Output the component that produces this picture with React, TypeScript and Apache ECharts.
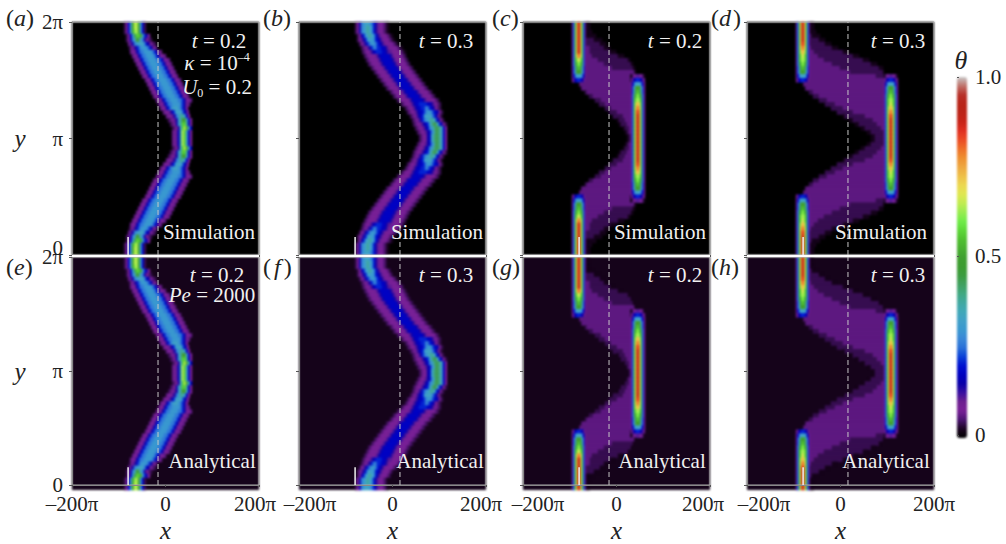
import React, { useEffect, useRef } from "react";
import * as echarts from "echarts";

const SERIF = '"Liberation Serif", "DejaVu Serif", serif';

// theta value of each letter used in the row strings below
const THETA_LEVELS: Record<string, number> = {
  a: 0.02, b: 0.04, c: 0.06, d: 0.08, e: 0.11, f: 0.145, g: 0.18, h: 0.21, i: 0.26, j: 0.3, k: 0.33, l: 0.38,
  m: 0.43, n: 0.5, o: 0.565, p: 0.61, q: 0.64, r: 0.69, s: 0.74, t: 0.8, u: 0.84, v: 0.89, w: 0.945,
};

// colour bar, bottom to top, one colour per 0.025 of theta
const COLORBAR = [
  "#000000", "#1a0420", "#4a1470", "#7a2098", "#6e2090", "#3a10a0", "#0a00a8", "#0000c0", "#0010d0", "#0a40d8",
  "#2a70d8", "#3a88d8", "#3a98d0", "#40a0c8", "#40a8b8", "#40a8a0", "#40a880", "#40a060", "#3c9c40", "#3c9c30",
  "#40a030", "#48b030", "#50c030", "#5cd838", "#70ec48", "#98ec50", "#c0ec50", "#e0e850", "#ecd850", "#eec048",
  "#eea840", "#ee9030", "#ee7028", "#ec4c24", "#e03020", "#c82418", "#bc2418", "#b82418", "#b83028", "#c07068",
  "#c8c8c8",
];

// Rows from y = 2pi down to y = pi; each row is "startColumn letters" pairs, a letter may carry a repeat count.
const BAND = "cddfhiijjjjiihfddc";
const FIELD_T02_WIDE = [
  "52 bdgjnqqnjgb", "52 bdgjnqqnjgb", "52 bdgjnpqnjgb", "54 bdgjmoonkhfd", "54 bdfiknmkifdcb", "56 cefijkkkigfdcb",
  "57 bdefhijjjihfdc", "58 cddfhiijjjjihfdc", "60 cddfhiijjjjihfddc", `62 ${BAND}`, `64 ${BAND}`,
  `66 ${BAND}`, `68 ${BAND}`, `70 ${BAND}`, `73 ${BAND}`, `75 ${BAND}`,
  `77 ${BAND}`, `79 ${BAND}`, `81 ${BAND}`, `84 ${BAND}`, "86 cddfhiijjjjihfdc",
  "88 cddfhijkkjihfd", "91 cddefhjkkjhfd", "94 cddefijlljgd", "96 bcdefjlnnkgd", "98 bcdfjloolgd", "100 bcdfkoqnkg",
  "100 cdeglqokgd", "100 cdeglqokgd",
];

const DEEP = "bcddddefgggggfeddddcb";
const FIELD_T03_WIDE = [
  "56 bdfijkkjihfeddcba", "56 bdfijklkjhfeddcba", "56 bdfijklkjhfeddcba", "58 bdfhjklkjhfedddcba", "58 bdefhjkjjhgfedddcba",
  "60 bdefhijjihgfeddddcba", "62 bcdefhiihhggfeddddcba", "63 bcddefghhhggfeeddddcba", `65 ${DEEP}`,
  `67 ${DEEP}`, `69 ${DEEP}`, `72 ${DEEP}`, `75 ${DEEP}`,
  `78 ${DEEP}`, `81 ${DEEP}`, `84 ${DEEP}`, `87 ${DEEP}`,
  `91 ${DEEP}`, `94 ${DEEP}`, `98 ${DEEP}`, "102 bcdddefgghhhhggfedcb",
  "106 bcddefgghhiihgfdcb", "108 bcddefgghijjihgfdb", "111 bcdefghjkkkihfdb", "113 bcdefhijkllkhfdb", "114 bcddefghjlmmkhfdb",
  "116 bcddefgijlmmlkgd", "118 bcddefgikmmlkgd", "120 bcddfgjlmmlkgd",
];

// cross-sections of the narrow stripes, named after their core level
const S_V = "dhjnqtvvtqnjhd";
const S_U = "dhjnqtuutqnjhd";
const S_T = "dhjnqsttsqnjhd";
const S_S = "dhjnprssrpnjhd";
const S_R = "dhjnoprrponjhd";
const S_Q = "dhjnopqqponjhd";
const S_P = "dhjmnopponmjhd";
const S_O = "dgilmnoonmligd";
const S_N = "dgikmnnnnmkigd";
const S_K = "dfgijkkkkjigfd";
const S_H = "cdffghhhhgffdc";
const S_TIP = "abcddeeeeddcba";

const FIELD_T02_NARROW = [
  `49 ${S_V} 63 a4`, `49 ${S_V} 63 a4`, `49 ${S_V} 63 a6`, `49 ${S_V} 63 a10`, `49 ${S_V} 63 b8a8`,
  `49 ${S_V} 63 b14a6`, `49 ${S_V} 63 c4b14a6`, `49 ${S_V} 63 c4b20a6`, `49 ${S_T} 63 c6b26a6`, `49 ${S_R} 63 c12b30a2`,
  `49 ${S_P} 63 c18b27a2`, `49 ${S_O} 63 c26b21a2`, `49 ${S_N} 63 c48ba`, `49 ${S_K} 63 c44 108 ${S_TIP}`,
  `49 ${S_H} 63 c44 108 ${S_H}`, `56 bc51 108 ${S_K}`, `58 bc49 108 ${S_N}`, `62 b2c44 108 ${S_O}`,
  `66 b4c38 108 ${S_P}`, `72 b6c30 108 ${S_Q}`, `76 b6c26 108 ${S_S}`, `82 b6c20 108 ${S_T}`, `86 b8c14 108 ${S_U}`,
  `90 b10c8 108 ${S_V}`, `94 a2b6c6 108 ${S_V}`, `96 a2b6c4 108 ${S_V}`, `100 a2b4c2 108 ${S_V}`, `102 a2b2c2 108 ${S_V}`,
  `104 a2b2 108 ${S_V}`,
];

const FIELD_T03_NARROW = [
  `49 ${S_V} 63 a4`, `49 ${S_V} 63 a4`, `49 ${S_V} 63 a6`, `49 ${S_V} 63 b2a8`, `49 ${S_V} 63 b9a6`,
  `49 ${S_U} 63 b15a6`, `49 ${S_T} 63 cb21a6`, `49 ${S_S} 63 c4b29a6`, `49 ${S_R} 63 c8b35a6`, `49 ${S_Q} 63 c14b39a6`,
  `49 ${S_P} 63 c22b39a6`, `49 ${S_O} 63 c30b39a4`, `49 ${S_N} 63 c40b32ba`, `49 ${S_K} 63 c66b8 137 ${S_TIP}`,
  `49 ${S_H} 63 c74 137 ${S_H}`, `56 bc80 137 ${S_K}`, `58 bc78 137 ${S_N}`, `62 b4c71 137 ${S_O}`, `66 b6c65 137 ${S_P}`,
  `72 b8c57 137 ${S_Q}`, `78 b10c49 137 ${S_R}`, `84 b12c41 137 ${S_S}`, `90 b16c31 137 ${S_T}`, `96 a2b20c19 137 ${S_U}`,
  `102 a4b20c11 137 ${S_V}`, `108 a4b18c7 137 ${S_V}`, `114 a4b16c3 137 ${S_V}`, `120 a4b13 137 ${S_V}`, `124 a4b9 137 ${S_V}`,
];

const Y_TICKS: Record<number, string> = { 0: "0", 1: "π", 2: "2π" };
const FIELDS = [FIELD_T02_WIDE, FIELD_T03_WIDE, FIELD_T02_NARROW, FIELD_T03_NARROW];
const LETTER_COLUMNS = [2, 2, 1, 1];
const N_COLS = 187;
const PANEL_LETTERS = ["a", "b", "c", "d", "e", "f", "g", "h"];
const DASH_X = [-16, 16, -16, 16];
const MARK_X = -80;
const MARK_TOP = 0.155;
const TIMES = ["0.2", "0.3", "0.2", "0.3"];

const COL_LEFT = [72, 299, 523, 747];
const ROW_TOP = [22, 257];
const PANEL_W = 187;
const PANEL_H = 233;
const N_ROWS = 58;
const ROW_BG = ["#000000", "#15031a"];
const MIN_LABEL_SHIFT = [0, 11, 15, 17];
const MAX_LABEL_SHIFT = [4, 5, 7, 0];

function decodeField(rows: string[], letterColumns: number) {
  const cells: number[][] = [];
  const full = [...rows, ...[...rows].reverse()];
  full.forEach((row, r) => {
    const map = new Map<number, number>();
    const parts = row.split(" ");
    for (let p = 0; p + 1 < parts.length; p += 2) {
      let col = Number(parts[p]);
      for (const m of parts[p + 1].matchAll(/([a-w])(\d*)/g)) {
        const n = (m[2] ? Number(m[2]) : 1) * letterColumns;
        for (let j = 0; j < n; j++) map.set(col++, THETA_LEVELS[m[1]]);
      }
    }
    map.forEach((v, c) => cells.push([c, N_ROWS - 1 - r, v]));
  });
  return cells;
}

function heatOption() {
  const grid: any[] = [];
  const xAxis: any[] = [];
  const yAxis: any[] = [];
  const series: any[] = [];
  const rowNames = Array.from({ length: N_ROWS }, (_, i) => String(i));
  const colNames = Array.from({ length: N_COLS }, (_, k) => String(k));
  for (let i = 0; i < 8; i++) {
    const col = i % 4;
    const row = i < 4 ? 0 : 1;
    grid.push({
      left: COL_LEFT[col], top: ROW_TOP[row], width: PANEL_W, height: PANEL_H,
      show: true, backgroundColor: ROW_BG[row], borderWidth: 0,
    });
    xAxis.push({ type: "category", gridIndex: i, data: colNames, show: false });
    yAxis.push({ type: "category", gridIndex: i, data: rowNames, show: false });
    series.push({
      type: "heatmap", xAxisIndex: i, yAxisIndex: i, data: decodeField(FIELDS[col], LETTER_COLUMNS[col]),
      silent: true, progressive: 0, emphasis: { disabled: true },
    });
  }
  return {
    animation: false,
    backgroundColor: "#ffffff",
    grid, xAxis, yAxis, series,
    visualMap: {
      type: "continuous", min: 0, max: 1, show: true, left: 957, top: 77, itemWidth: 10, itemHeight: 361,
      padding: 0, calculable: false, hoverLink: false, text: ["", ""], inRange: { color: COLORBAR },
    },
  };
}

function frameOption() {
  const grid: any[] = [];
  const xAxis: any[] = [];
  const yAxis: any[] = [];
  const series: any[] = [];
  const labelStyle = { fontFamily: SERIF, fontSize: 21, color: "#222222" };

  for (let i = 0; i < 8; i++) {
    const col = i % 4;
    const row = i < 4 ? 0 : 1;
    grid.push({
      left: COL_LEFT[col], top: ROW_TOP[row], width: PANEL_W, height: PANEL_H,
      show: true, backgroundColor: "transparent", borderColor: "#aaaaaa", borderWidth: 1,
    });
    xAxis.push({
      type: "value", gridIndex: i, min: -200, max: 200, interval: 200, position: "bottom",
      axisLine: { show: true, onZero: false, lineStyle: { color: "#888888" } },
      axisTick: { show: true, length: 2, lineStyle: { color: "#555555" } },
      splitLine: { show: false },
      axisLabel: {
        show: row === 1, margin: 8, hideOverlap: false, showMinLabel: true, showMaxLabel: true, ...labelStyle,
        formatter: (v: number) => (v === -200 ? "{lo|–200π}" : v === 200 ? "{hi|200π}" : "0"),
        rich: {
          lo: { ...labelStyle, padding: [0, 0, 0, 2 * MIN_LABEL_SHIFT[col]] },
          hi: { ...labelStyle, padding: [0, 2 * MAX_LABEL_SHIFT[col], 0, 0] },
        },
      },
      name: row === 1 ? "x" : "", nameLocation: "middle", nameGap: 33,
      nameTextStyle: { fontFamily: SERIF, fontStyle: "italic", fontSize: 25, color: "#222222" },
    });
    yAxis.push({
      type: "value", gridIndex: i, min: 0, max: 2, interval: 1, position: "left",
      axisLine: { show: true, onZero: false, lineStyle: { color: "#888888" } },
      axisTick: { show: true, length: 3, lineStyle: { color: "#555555" } },
      splitLine: { show: false },
      axisLabel: {
        show: col === 0, margin: 9, showMinLabel: true, showMaxLabel: true, ...labelStyle,
        formatter: (v: number) => (row === 0 && v === 0 ? "{up|0}" : Y_TICKS[v]),
        rich: { up: { ...labelStyle, padding: [0, 0, 14, 0] } },
      },
      name: col === 0 ? "y" : "", nameLocation: "middle", nameRotate: 0, nameGap: 52,
      nameTextStyle: { fontFamily: SERIF, fontStyle: "italic", fontSize: 25, color: "#222222", align: "center", padding: [0, 0, 12, 0] },
    });
    series.push({
      type: "line", xAxisIndex: i, yAxisIndex: i, symbol: "none", silent: true,
      data: [[DASH_X[col], 0], [DASH_X[col], 2]],
      lineStyle: { color: "#c8c8c8", width: 1, type: [5, 3] },
    });
    series.push({
      type: "line", xAxisIndex: i, yAxisIndex: i, symbol: "none", silent: true,
      data: [[MARK_X, 0], [MARK_X, MARK_TOP]],
      lineStyle: { color: "#f0f0f0", width: 1.5 },
    });
  }

  // colour bar axis
  grid.push({ left: 957, top: 77, width: 10, height: 358, show: false });
  xAxis.push({ type: "value", gridIndex: 8, show: false, min: 0, max: 1 });
  yAxis.push({
    type: "value", gridIndex: 8, position: "right", min: 0, max: 1, interval: 0.5,
    axisLine: { show: false },
    axisTick: { show: true, length: 2, lineStyle: { color: "#555555" } },
    splitLine: { show: false },
    axisLabel: {
      margin: 8, showMinLabel: true, showMaxLabel: true, ...labelStyle,
      formatter: (v: number) => (v === 0 ? "0" : v.toFixed(1)),
    },
  });

  const white = { fill: "#f0f0f0", fontFamily: SERIF, fontSize: 21 };
  const wi = { ...white, fontStyle: "italic" };
  const note = (x: number, y: number, text: string, size = 21) => ({
    type: "text", x, y, z: 20, silent: true,
    style: {
      text, fill: "#f0f0f0", fontFamily: SERIF, fontSize: size, align: "center", verticalAlign: "middle",
      rich: {
        r: { ...white, fontSize: size },
        i: { ...wi, fontSize: size },
        sup: { ...white, fontSize: 12, padding: [0, 0, 12, 0] },
        sub: { ...white, fontSize: 12, padding: [12, 0, 0, 0] },
      },
    },
  });
  const black = { fill: "#222222", fontFamily: SERIF, fontSize: 24 };
  const tag = (x: number, y: number, l: string) => ({
    type: "text", x, y, z: 20, silent: true,
    style: {
      text: `{r|(}{i|${l}}{r|)}`, fill: "#222222", fontFamily: SERIF, fontSize: 24, align: "left", verticalAlign: "middle",
      rich: {
        r: black,
        i: { ...black, fontStyle: "italic", padding: l === "f" ? [0, 3, 0, 3] : l === "d" ? [0, 2, 0, 0] : [0, 0, 0, 0] },
      },
    },
  });

  const tagX = [6, 263, 492, 711];
  const graphic: any[] = [];
  COL_LEFT.forEach((x) =>
    graphic.push({ type: "rect", z: 15, silent: true, shape: { x, y: 255, width: PANEL_W, height: 2 }, style: { fill: "#ffffff" } })
  );
  PANEL_LETTERS.forEach((l, i) => graphic.push(tag(tagX[i % 4], i < 4 ? 18 : 267, l)));
  const tCenters = [219, 446, 675, 898];
  const tCentersB = [217, 446, 675, 898];
  const simCenters = [209, 437, 660, 881];
  const anaCenters = [212, 440, 662, 886];
  TIMES.forEach((t, c) => {
    graphic.push(note(tCenters[c], 41, `{i|t} = ${t}`));
    graphic.push(note(tCentersB[c], 275, `{i|t} = ${t}`));
    graphic.push(note(simCenters[c], 232, "Simulation"));
    graphic.push(note(anaCenters[c], 461, "Analytical"));
  });
  graphic.push(note(217, 63, "{i|κ} = 10{sup|–4}"));
  graphic.push(note(217, 87, "{i|U}{sub|0} = 0.2"));
  graphic.push(note(212, 295, "{i|Pe} = 2000"));
  graphic.push({
    type: "text", x: 961, y: 60, z: 20, silent: true,
    style: { text: "θ", fill: "#222222", fontFamily: SERIF, fontStyle: "italic", fontSize: 26, align: "center", verticalAlign: "middle" },
  });

  return { animation: false, backgroundColor: "transparent", grid, xAxis, yAxis, series, graphic };
}

const LAYER: React.CSSProperties = { position: "absolute", left: 0, top: 0, width: 1006, height: 544 };

export default function App() {
  const heatRef = useRef<HTMLDivElement>(null);
  const frameRef = useRef<HTMLDivElement>(null);
  useEffect(() => {
    const heat = echarts.init(heatRef.current!, undefined, { renderer: "svg" });
    heat.setOption(heatOption() as any);
    const frame = echarts.init(frameRef.current!, undefined, { renderer: "svg" });
    frame.setOption(frameOption() as any);
    return () => {
      heat.dispose();
      frame.dispose();
    };
  }, []);
  return (
    <>
      <div ref={heatRef} style={{ ...LAYER, filter: "blur(0.8px)" }} />
      <div ref={frameRef} style={LAYER} />
    </>
  );
}
